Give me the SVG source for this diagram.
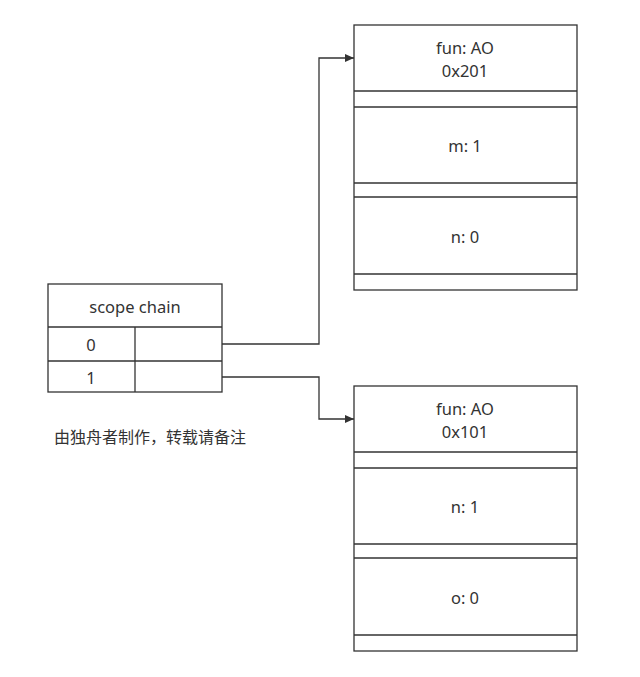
<svg xmlns="http://www.w3.org/2000/svg" width="640" height="677" viewBox="0 0 640 677">
<defs>
<style>
.b{fill:#fff;stroke:#333;stroke-width:1.3}
.l{stroke:#333;stroke-width:1.3;fill:none}
.t{font-family:"Noto Sans","Noto Sans CJK SC",sans-serif;font-size:16.5px;fill:#333;text-anchor:middle;dominant-baseline:central}
.c{stroke:#333;stroke-width:1.3;fill:none;marker-end:url(#a)}
</style>
<marker id="a" markerWidth="10" markerHeight="8" refX="9" refY="4" orient="auto" markerUnits="userSpaceOnUse">
<path d="M0,0 L9,4 L0,8 Z" fill="#333"/>
</marker>
</defs>
<rect width="640" height="677" fill="#fff"/>
<g id="ao201">
<rect class="b" x="354" y="25" width="223" height="265"/>
<line class="l" x1="354" y1="91" x2="577" y2="91"/>
<line class="l" x1="354" y1="107" x2="577" y2="107"/>
<line class="l" x1="354" y1="183" x2="577" y2="183"/>
<line class="l" x1="354" y1="197" x2="577" y2="197"/>
<line class="l" x1="354" y1="274" x2="577" y2="274"/>
<text class="t" x="465" y="47">fun: AO</text>
<text class="t" x="465" y="70">0x201</text>
<text class="t" x="465" y="145">m: 1</text>
<text class="t" x="465" y="236">n: 0</text>
</g>
<g id="ao101">
<rect class="b" x="354" y="386" width="223" height="265"/>
<line class="l" x1="354" y1="452" x2="577" y2="452"/>
<line class="l" x1="354" y1="468" x2="577" y2="468"/>
<line class="l" x1="354" y1="544" x2="577" y2="544"/>
<line class="l" x1="354" y1="558" x2="577" y2="558"/>
<line class="l" x1="354" y1="635" x2="577" y2="635"/>
<text class="t" x="465" y="408">fun: AO</text>
<text class="t" x="465" y="431">0x101</text>
<text class="t" x="465" y="506">n: 1</text>
<text class="t" x="465" y="597">o: 0</text>
</g>
<g id="scopechain">
<rect class="b" x="48" y="284" width="174" height="108"/>
<line class="l" x1="48" y1="327" x2="222" y2="327"/>
<line class="l" x1="48" y1="361" x2="222" y2="361"/>
<line class="l" x1="135" y1="327" x2="135" y2="392"/>
<text class="t" x="135" y="306">scope chain</text>
<text class="t" x="91" y="344">0</text>
<text class="t" x="91" y="377">1</text>
</g>
<g id="note">
<text x="54" y="443" style="font-family:'Noto Sans CJK SC',sans-serif;font-size:16px;fill:#333">由独舟者制作，转载请备注</text>
</g>
<g id="connectors">
<path class="c" d="M222,344 H319 V58 H354"/>
<path class="c" d="M222,377 H319 V419 H354"/>
</g>
</svg>
